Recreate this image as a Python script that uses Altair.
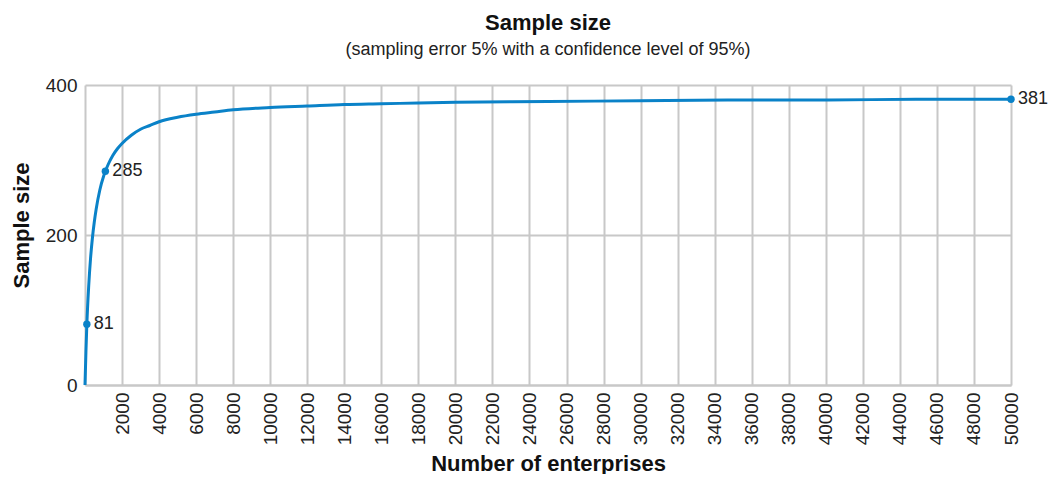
import altair as alt
import pandas as pd

# Curve: number of enterprises vs. required sample size
enterprises = [0, 50, 100, 200, 300, 400, 500, 600, 800, 1000, 1100, 1250, 1500, 1750,
               2000, 2500, 3000, 3500, 4000, 5000, 6000, 7000, 8000, 10000, 12000,
               14000, 16000, 18000, 20000, 25000, 30000, 35000, 40000, 45000, 50000]
sample_size = [0, 44, 81, 132, 169, 196, 217, 234, 260, 278, 285, 294, 306, 315,
               322, 333, 341, 346, 351, 357, 361, 364, 367, 370, 372,
               374, 375, 376, 377, 378, 379, 380, 380, 381, 381]

# Labelled points
point_enterprises = [100, 1100, 50000]
point_values = [81, 285, 381]

x_ticks = list(range(2000, 50001, 2000))
y_ticks = [0, 200, 400]

FONT = "Liberation Sans"
BLUE = "#0a82c8"
GRID = "#c8c8c8"

curve = pd.DataFrame({"N": enterprises, "n": sample_size})
pts = pd.DataFrame({"N": point_enterprises, "n": point_values})

x_axis = alt.Axis(values=x_ticks, labelAngle=270, ticks=False, labelPadding=7,
                  labelOverlap=False, labelBound=False,
                  format="d", title="Number of enterprises",
                  titleY=85, titleBaseline="alphabetic")
y_axis = alt.Axis(values=y_ticks, ticks=False, labelPadding=8,
                  labelOverlap=False,
                  title="Sample size", titleX=-64, titleY=140,
                  titleBaseline="middle", titleAlign="center")
x_scale = alt.Scale(domain=[0, 50000], nice=False, zero=True)
y_scale = alt.Scale(domain=[0, 400], nice=False)

x_enc = alt.X("N:Q", scale=x_scale, axis=x_axis)
y_enc = alt.Y("n:Q", scale=y_scale, axis=y_axis)

line = alt.Chart(curve).mark_line(color=BLUE, strokeWidth=3, interpolate="monotone").encode(
    x=x_enc, y=y_enc)
dots = alt.Chart(pts).mark_circle(color=BLUE, size=55, opacity=1).encode(x=x_enc, y=y_enc)
labels = alt.Chart(pts).mark_text(align="left", baseline="middle", dx=7, fontSize=18,
                                  font=FONT, color="#222").encode(
    x=x_enc, y=y_enc, text=alt.Text("n:Q"))

chart = alt.layer(line, dots, labels).properties(
    width=926, height=300,
    title=alt.TitleParams(text="Sample size",
                          subtitle="(sampling error 5% with a confidence level of 95%)",
                          fontSize=22, font=FONT, fontWeight="bold", color="#111",
                          subtitleFontSize=18, subtitleFont=FONT, subtitleColor="#222",
                          subtitlePadding=6, anchor="middle", offset=16),
    autosize=alt.AutoSizeParams(type="none"),
    padding={"left": 77, "top": 77, "right": 37, "bottom": 89},
).configure_view(stroke=None).configure_axis(
    gridColor=GRID, gridWidth=2, domainColor=GRID, domainWidth=2,
    labelFont=FONT, labelFontSize=19, labelColor="#222",
    titleFont=FONT, titleFontSize=22, titleFontWeight="bold", titleColor="#111",
    labelOverlap=False,
)

chart.save("out.html", embed_options={"renderer": "svg", "actions": False})
